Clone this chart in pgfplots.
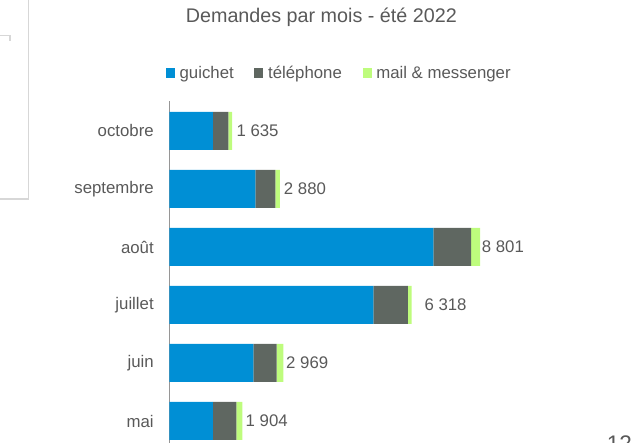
\documentclass[border=0pt]{standalone}
\usepackage{pgfplots}
\pgfplotsset{compat=1.18}
\usepackage{fontspec}
\setmainfont{Liberation Sans}
\definecolor{cblue}{RGB}{0,143,213}
\definecolor{cgray}{RGB}{95,103,97}
\definecolor{cgreen}{RGB}{190,252,125}
\definecolor{ctext}{RGB}{89,89,89}
\definecolor{cframe}{RGB}{215,215,215}
\definecolor{caxis}{RGB}{150,150,150}
\begin{document}
\begin{tikzpicture}
\useasboundingbox (0pt,0pt) rectangle (480pt,332.25pt);
\clip (0pt,0pt) rectangle (480pt,332.25pt);
% slide artefacts
\draw[cframe, line width=1.2pt] (21.5pt,333pt) -- (21.5pt,183pt) -- (-1pt,183pt);
\draw[cframe, line width=1pt] (-1pt,305.5pt) -- (7.5pt,305.5pt) -- (7.5pt,301.7pt);
\node[text=ctext, font=\fontsize{14.8}{17}\selectfont, anchor=base] at (241pt,315.4pt) {Demandes par mois - été 2022};
\node[text=ctext, font=\fontsize{16.9}{19}\selectfont, anchor=base west, inner sep=0pt] at (455pt,-6.75pt) {12};
\begin{axis}[
  at={(127.1pt,-9.6pt)}, anchor=south west,
  scale only axis, width=287.6pt, height=266.1pt,
  xbar stacked, bar width=28.5pt,
  xmin=0, xmax=10000, ymin=-0.6, ymax=5.517,
  axis x line=none, axis y line*=left,
  axis line style={caxis, line width=0.8pt},
  major tick length=0pt,
  ytick={0,1,2,3,4,5},
  yticklabels={mai,juin,juillet,août,septembre,octobre},
  yticklabel style={font=\fontsize{12.6}{15}\selectfont, text=ctext, inner sep=0pt, xshift=-11.6pt},
  legend columns=3,
  legend style={at={(axis description cs:0.443,1.079)}, anchor=center, draw=none, fill=none,
    font=\fontsize{12.6}{15}\selectfont, text=ctext, nodes={inner sep=1.5pt},
    /tikz/every even column/.append style={column sep=14pt},
    /tikz/every odd column/.append style={column sep=2pt}},
  legend image code/.code={\fill[#1] (0pt,-3.4pt) rectangle (6.75pt,3.4pt);},
  every node near coord/.append style={font=\fontsize{12.6}{15}\selectfont, text=ctext, anchor=west, inner sep=0pt, xshift=4.5pt},
]
\addplot[fill=cblue, draw=none] coordinates {(1135,0) (2190,1) (5319,2) (6884,3) (2240,4) (1129,5)};
\addplot[fill=cgray, draw=none] coordinates {(610,0) (605,1) (895,2) (983,3) (525,4) (409,5)};
\addplot[fill=cgreen, draw=none, nodes near coords, point meta=explicit symbolic] coordinates {
(159,0) [1 904]
(174,1) [2 969]
(104,2) [\hspace{6.4pt}6 318]
(235,3) [8 801]
(115,4) [2 880]
(97,5) [1 635]
};
\legend{guichet, téléphone, mail \& messenger}
\end{axis}
\end{tikzpicture}
\end{document}
